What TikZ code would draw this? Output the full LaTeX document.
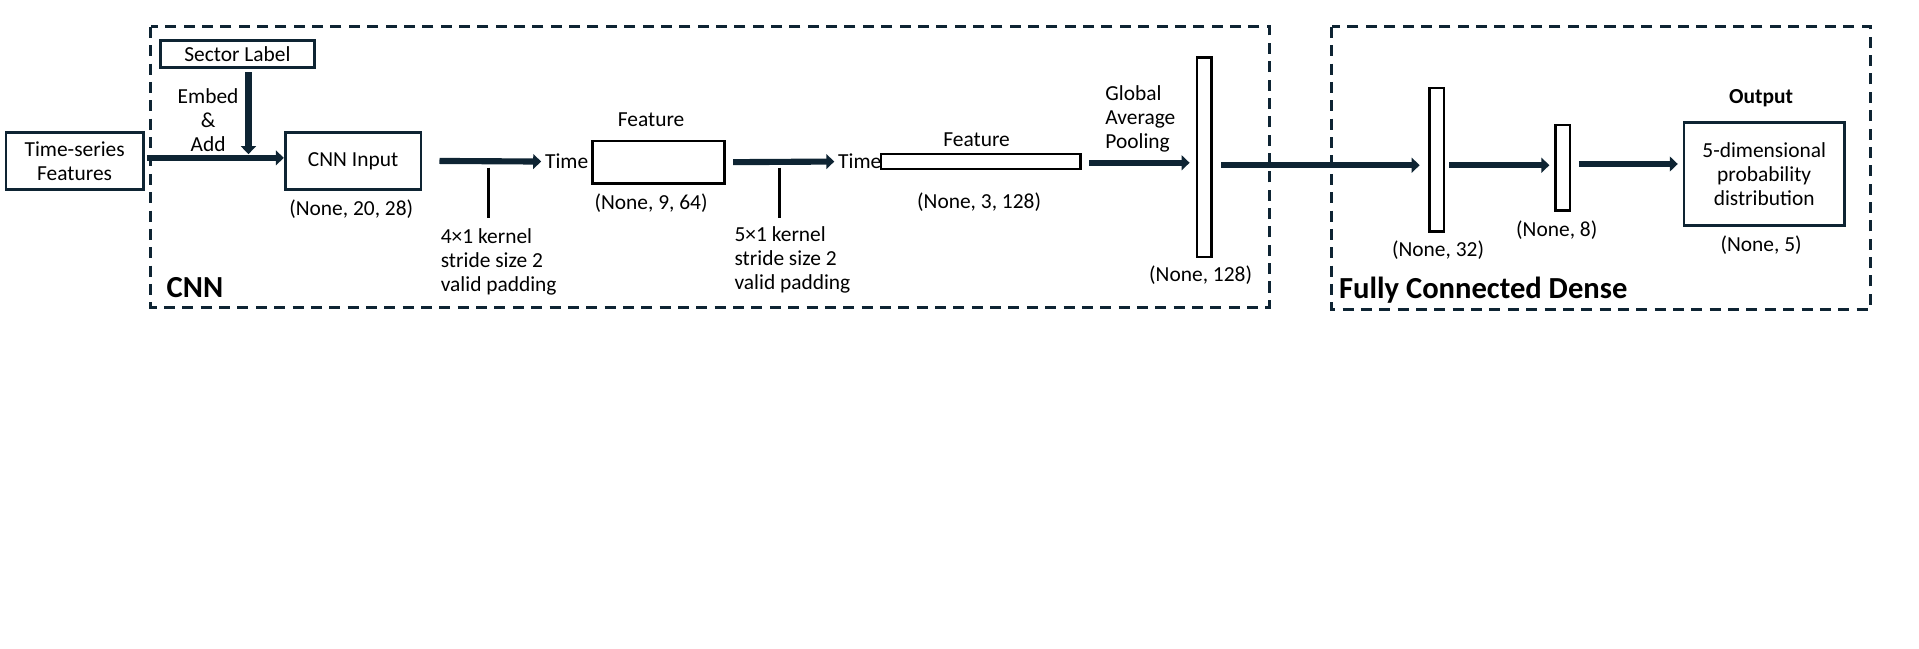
\documentclass[tikz,border=0pt]{standalone}
\usepackage{fontspec}
\setmainfont{Carlito}
\usetikzlibrary{arrows.meta}
\definecolor{navy}{HTML}{0E2433}
\begin{document}
\begin{tikzpicture}[x=1pt,y=-1pt,
  txt/.style={font=\fontsize{17.5}{19.5}\selectfont, inner sep=0pt, text=black},
  ttl/.style={font=\fontsize{25}{28}\selectfont\bfseries, inner sep=0pt, text=black},
  box/.style={txt, draw=navy, line width=2.2pt, fill=white, align=center},
  bar/.style={draw=black, line width=2pt, fill=white, inner sep=0pt},
  flow/.style={draw=navy, line width=5pt, -{Triangle[length=6.5pt,width=12pt]}},
  tick/.style={draw=black, line width=2pt},
  frame/.style={draw=navy, line width=2.5pt, dash pattern=on 9pt off 6pt}]
\useasboundingbox (0,0) rectangle (1568,529.5);
% frames
\draw[frame] (123,22) rectangle (1037,251);
\draw[frame] (1088,22) rectangle (1528,253);
\node[ttl, anchor=west] (cnnt) at (136,235) {CNN};
\node[ttl, anchor=west] (fcdt) at (1094,237) {Fully Connected Dense};
% boxes
\node[box, minimum width=112, minimum height=47] (ts) at (61,131.5) {Time-series\\Features};
\node[box, minimum width=126, minimum height=22] (sector) at (194,44) {Sector Label};
\node[txt, align=center] (embed) at (170,98) {Embed\\\&\\Add};
\node[box, minimum width=111, minimum height=47] (cnnin) at (288.5,131.5) {CNN Input};
\node[txt] (s1) at (287,171) {(None, 20, 28)};
\node[txt] (t1) at (463,132) {Time};
\node[bar, minimum width=108, minimum height=35] (f1) at (538,132.5) {};
\node[txt] (f1a) at (532,98) {Feature};
\node[txt] (s2) at (532,166) {(None, 9, 64)};
\node[txt, align=left, anchor=west] (k1) at (360,214) {4×1 kernel\\stride size 2\\valid padding};
\node[txt] (t2) at (702.5,132) {Time};
\node[bar, minimum width=163, minimum height=12] (f2) at (801.5,132) {};
\node[txt] (f2a) at (798,114) {Feature};
\node[txt] (s3) at (800,165) {(None, 3, 128)};
\node[txt, align=left, anchor=west] (k2) at (600,212.5) {5×1 kernel\\stride size 2\\valid padding};
\node[txt, align=left, anchor=west] (gapl) at (903,97) {Global\\Average\\Pooling};
\node[bar, minimum width=12, minimum height=163] (gap) at (984,128.5) {};
\node[txt] (s4) at (981,225) {(None, 128)};
\node[bar, minimum width=12, minimum height=117] (d32) at (1174,130.5) {};
\node[txt] (s5) at (1175,204) {(None, 32)};
\node[bar, minimum width=12, minimum height=70] (d8) at (1277,137) {};
\node[txt] (s6) at (1272,188) {(None, 8)};
\node[box, minimum width=131, minimum height=84] (out) at (1441.5,142) {5-dimensional\\probability\\distribution};
\node[txt, font=\fontsize{17.5}{19.5}\selectfont\bfseries] (outl) at (1439,80) {Output};
\node[txt] (s7) at (1439,200) {(None, 5)};
% connectors
\coordinate (join) at (203,126);
\coordinate (k1top) at (399,137);
\coordinate (k1bot) at (399,178);
\coordinate (k2top) at (637,137);
\coordinate (k2bot) at (637,178);
\draw[flow] ([xshift=2pt,yshift=2.5pt]ts.east) -- ([yshift=2.5pt]cnnin.west);
\draw[flow] ([xshift=9pt,yshift=-3pt]sector.south) -- (join);
\draw[flow] ([xshift=14pt]cnnin.east) -- ([xshift=-3pt]t1.west);
\draw[tick] (k1top) -- (k1bot);
\draw[flow] ([xshift=6pt]f1.east) -- ([xshift=-3pt]t2.west);
\draw[tick] (k2top) -- (k2bot);
\draw[flow] ([xshift=6pt,yshift=-1pt]f2.east) -- ([xshift=-5pt,yshift=-1pt]f2.east -| gap.west);
\draw[flow] ([xshift=7pt]gap.east |- 0,135) -- ([xshift=-7pt]d32.west |- 0,135);
\draw[flow] ([xshift=3pt]d32.east |- 0,135) -- ([xshift=-4pt]d8.west |- 0,135);
\draw[flow] ([xshift=6pt]d8.east |- 0,134) -- ([xshift=-4pt]out.west |- 0,134);
\end{tikzpicture}
\end{document}
